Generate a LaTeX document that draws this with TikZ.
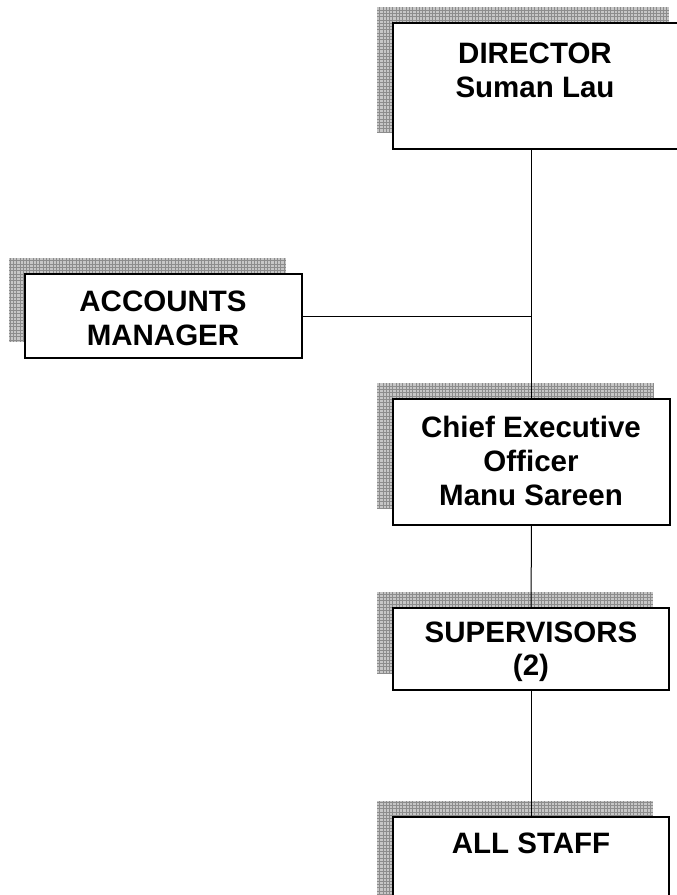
\documentclass[tikz,border=0pt]{standalone}
\usepackage{fontspec}
\setmainfont{Liberation Sans}
\usetikzlibrary{backgrounds}
\begin{document}
\begin{tikzpicture}[x=1pt,y=-1pt,
  box/.style={draw=black, line width=1.4pt, fill=white, rectangle, inner sep=0pt, outer sep=0pt, anchor=north west},
  lbl/.style={anchor=base, inner sep=0pt, font=\fontsize{29.5}{34}\selectfont\bfseries},
  conn/.style={draw=black, line width=1pt},
  shadowfill/.style={fill=gray!45},
  shadowgrid/.style={draw=gray!90, line width=0.45pt}]
\useasboundingbox (0,0) rectangle (677,895);
\clip (0,0) rectangle (677,895);
% boxes
\node[box, minimum width=292pt, minimum height=126pt] (dir) at (393,23) {};
\node[box, minimum width=277pt, minimum height=84pt] (acc) at (25,274) {};
\node[box, minimum width=277pt, minimum height=126pt] (ceo) at (393,399) {};
\node[box, minimum width=276pt, minimum height=82pt] (sup) at (393,608) {};
\node[box, minimum width=276pt, minimum height=100pt] (all) at (393,817) {};
% shadows
\begin{pgfonlayer}{background}
\foreach \n in {dir,acc,ceo,sup,all}{
  \begin{scope}
  \clip ([shift={(-16,-16)}]\n.north west) rectangle ([shift={(-16,-16)}]\n.south east);
  \path[shadowfill] ([shift={(-16,-16)}]\n.north west) rectangle ([shift={(-16,-16)}]\n.south east);
  \draw[shadowgrid, xstep=3.3pt, ystep=3.3pt] ([shift={(-16,-16)}]\n.north west) grid ([shift={(-16,-16)}]\n.south east);
  \end{scope}
}
\end{pgfonlayer}
% labels
\node[lbl] (dir1) at (535,63) {DIRECTOR};
\node[lbl] (dir2) at (535,97) {Suman Lau};
\node[lbl] (acc1) at (163,311) {ACCOUNTS};
\node[lbl] (acc2) at (163,345) {MANAGER};
\node[lbl] (ceo1) at (531,437) {Chief Executive};
\node[lbl] (ceo2) at (531,471) {Officer};
\node[lbl] (ceo3) at (531,505) {Manu Sareen};
\node[lbl] (sup1) at (531,642) {SUPERVISORS};
\node[lbl] (sup2) at (531,675) {(2)};
\node[lbl] (all1) at (531,853) {ALL STAFF};
% connectors
\draw[conn] (dir.south -| ceo.north) -- (ceo.north);
\draw[conn] (acc.east) -- (acc.east -| ceo.north);
\draw[conn] (ceo.south) -- (sup.north);
\draw[conn] (sup.south) -- (all.north);
\end{tikzpicture}
\end{document}
